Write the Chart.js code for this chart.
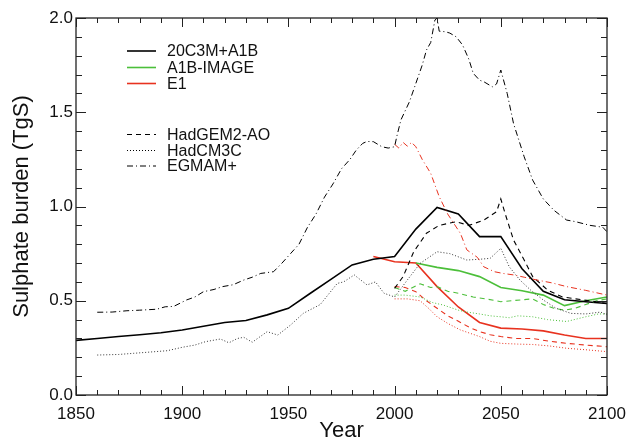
<!DOCTYPE html>
<html>
<head>
<meta charset="utf-8">
<script src="https://cdn.jsdelivr.net/npm/chart.js@4.4.1/dist/chart.umd.min.js"></script>
<style>
  html, body { margin: 0; padding: 0; background: #fff; }
</style>
</head>
<body>
<canvas id="chart" width="628" height="444"></canvas>
<script>
// Axis ticks
const xTicks = [1850, 1900, 1950, 2000, 2050, 2100];
const yTicks = [0.0, 0.5, 1.0, 1.5, 2.0];

// Ensemble means (solid)
const meanYears = [1850, 1860, 1870, 1880, 1890, 1900, 1910, 1920, 1930, 1940, 1950, 1960, 1970,
    1980, 1990, 2000, 2010, 2020, 2030, 2040, 2050, 2060, 2070, 2080, 2090, 2100];
const meanA1B = [0.29, 0.30, 0.31, 0.32, 0.33, 0.345, 0.365, 0.385, 0.395, 0.425, 0.46, 0.537, 0.613,
    0.69, 0.72, 0.735, 0.88, 0.995, 0.96, 0.84, 0.84, 0.67, 0.55, 0.505, 0.495, 0.485];
const imageYears = [2010, 2020, 2030, 2040, 2050, 2060, 2070, 2080, 2090, 2100];
const meanImage = [0.70, 0.677, 0.66, 0.628, 0.57, 0.553, 0.53, 0.474, 0.50, 0.52];
const e1Years = [1990, 2000, 2010, 2020, 2030, 2040, 2050, 2060, 2070, 2080, 2090, 2100];
const meanE1 = [0.735, 0.707, 0.70, 0.575, 0.467, 0.385, 0.355, 0.35, 0.34, 0.318, 0.30, 0.30];

// HadGEM2-AO (dashed)
const hgA1BYears = [2000, 2004, 2009, 2015, 2021, 2029, 2035, 2042, 2048, 2050, 2052, 2056, 2061,
    2065, 2072, 2079, 2089, 2100];
const hgA1B = [0.566, 0.628, 0.76, 0.858, 0.90, 0.919, 0.90, 0.928, 0.972, 1.04, 0.964, 0.822, 0.716,
    0.628, 0.557, 0.52, 0.504, 0.486];
const hgImageYears = [2000, 2005, 2012, 2017, 2020, 2025, 2030, 2037, 2043, 2050, 2055, 2060, 2065,
    2070, 2075, 2080, 2085, 2090, 2095, 2100];
const hgImage = [0.57, 0.55, 0.59, 0.57, 0.575, 0.55, 0.54, 0.52, 0.51, 0.495, 0.50, 0.505, 0.51,
    0.48, 0.46, 0.45, 0.46, 0.48, 0.50, 0.51];
const hgE1Years = [2000, 2005, 2010, 2015, 2020, 2025, 2029, 2035, 2040, 2045, 2050, 2057, 2065,
    2073, 2081, 2090, 2100];
const hgE1 = [0.575, 0.57, 0.548, 0.50, 0.46, 0.42, 0.398, 0.36, 0.336, 0.32, 0.31, 0.30, 0.30,
    0.285, 0.274, 0.265, 0.256];

// HadCM3C (dotted)
const hcA1BYears = [1860, 1870, 1877, 1885, 1893, 1900, 1906, 1911, 1918, 1922, 1926, 1929, 1933,
    1940, 1945, 1951, 1957, 1965, 1973, 1976, 1981, 1987, 1991, 1995, 2000, 2006, 2012, 2020, 2026,
    2034, 2040, 2045, 2050, 2054, 2059, 2064, 2070, 2076, 2083, 2090, 2097, 2100];
const hcA1B = [0.212, 0.215, 0.221, 0.228, 0.235, 0.253, 0.265, 0.283, 0.297, 0.277, 0.30, 0.306, 0.28,
    0.336, 0.318, 0.371, 0.433, 0.48, 0.592, 0.60, 0.637, 0.584, 0.60, 0.54, 0.52, 0.61, 0.698, 0.76, 0.75,
    0.716, 0.72, 0.725, 0.778, 0.68, 0.61, 0.557, 0.504, 0.46, 0.433, 0.43, 0.44, 0.425];
const hcImageYears = [2000, 2005, 2012, 2018, 2023, 2030, 2034, 2040, 2045, 2050, 2054, 2058, 2065,
    2072, 2081, 2090, 2096, 2100];
const hcImage = [0.53, 0.53, 0.52, 0.49, 0.477, 0.45, 0.44, 0.43, 0.42, 0.415, 0.41, 0.42, 0.415,
    0.40, 0.39, 0.415, 0.43, 0.43];
const hcE1Years = [2000, 2006, 2012, 2016, 2020, 2025, 2031, 2040, 2045, 2050, 2058, 2065, 2073,
    2081, 2090, 2100];
const hcE1 = [0.51, 0.51, 0.50, 0.46, 0.415, 0.38, 0.345, 0.31, 0.285, 0.274, 0.27, 0.268, 0.26,
    0.248, 0.24, 0.23];

// EGMAM+ (dash-dot)
const egA1BYears = [1860, 1867, 1874, 1880, 1888, 1892, 1896, 1902, 1906, 1910, 1915, 1919, 1924,
    1929, 1933, 1937, 1943, 1947, 1951, 1955, 1959, 1963, 1967, 1971, 1975, 1979, 1982, 1985, 1987,
    1990, 1994, 1997, 2000, 2001, 2003, 2007, 2010, 2013, 2015, 2017, 2019, 2020, 2021, 2024, 2026,
    2029, 2032, 2035, 2037, 2040, 2042, 2046, 2048, 2050, 2053, 2056, 2061, 2065, 2070, 2075, 2081,
    2085, 2092, 2098, 2100];
const egA1B = [0.439, 0.44, 0.447, 0.45, 0.455, 0.468, 0.47, 0.504, 0.52, 0.548, 0.56, 0.575, 0.585,
    0.61, 0.625, 0.645, 0.654, 0.70, 0.75, 0.80, 0.89, 0.96, 1.05, 1.12, 1.20, 1.25, 1.30, 1.335, 1.345,
    1.344, 1.317, 1.31, 1.317, 1.37, 1.46, 1.556, 1.653, 1.75, 1.83, 1.87, 1.99, 2.0, 1.93, 1.927, 1.92,
    1.90, 1.857, 1.78, 1.707, 1.67, 1.662, 1.635, 1.65, 1.724, 1.60, 1.44, 1.264, 1.14, 1.04, 0.98, 0.928,
    0.92, 0.90, 0.89, 0.866];
const egE1Years = [2000, 2002, 2004, 2006, 2008, 2010, 2013, 2017, 2021, 2025, 2031, 2034, 2039,
    2042, 2047, 2051, 2056, 2061, 2067, 2074, 2081, 2090, 2100];
const egE1 = [1.33, 1.31, 1.34, 1.32, 1.34, 1.317, 1.25, 1.176, 1.052, 0.96, 0.857, 0.77, 0.73,
    0.68, 0.654, 0.645, 0.637, 0.625, 0.61, 0.595, 0.575, 0.555, 0.53];

// Legend
const legendLabels = ["20C3M+A1B", "A1B-IMAGE", "E1", "HadGEM2-AO", "HadCM3C", "EGMAM+"];

const BLACK = "#000000";
const GREEN = "#4cbf3a";
const RED = "#e8321f";
const DASH = [5, 4];
const DOT = [1, 2];
const DASHDOT = [6, 3, 1, 3];

function pts(xs, ys) {
    return xs.map((x, i) => ({ x: x, y: ys[i] }));
}

function line(xs, ys, color, dash, width) {
    return {
        data: pts(xs, ys),
        borderColor: color,
        borderDash: dash,
        borderWidth: width,
        pointRadius: 0,
        tension: 0,
        fill: false
    };
}

const datasets = [
    line(egA1BYears, egA1B, BLACK, DASHDOT, 1),
    line(egE1Years, egE1, RED, DASHDOT, 1),
    line(hcA1BYears, hcA1B, "#333", DOT, 1),
    line(hcImageYears, hcImage, GREEN, DOT, 1),
    line(hcE1Years, hcE1, RED, DOT, 1),
    line(hgA1BYears, hgA1B, BLACK, DASH, 1.1),
    line(hgImageYears, hgImage, GREEN, DASH, 1.1),
    line(hgE1Years, hgE1, RED, DASH, 1.1),
    line(meanYears, meanA1B, BLACK, [], 1.6),
    line(imageYears, meanImage, GREEN, [], 1.6),
    line(e1Years, meanE1, RED, [], 1.6)
];

// Box frame and inward ticks on all four sides
const framePlugin = {
    id: "frame",
    afterDatasetsDraw(chart) {
        const { ctx, chartArea: a, scales } = chart;
        const xs = scales.x, ys = scales.y;
        ctx.save();
        ctx.strokeStyle = "#222";
        ctx.lineWidth = 1.3;
        ctx.strokeRect(a.left, a.top, a.right - a.left, a.bottom - a.top);
        ctx.beginPath();
        for (let yr = 1850; yr <= 2100; yr += 10) {
            const px = Math.round(xs.getPixelForValue(yr)) + 0.5;
            const len = yr % 50 === 0 ? 9 : 5;
            ctx.moveTo(px, a.bottom); ctx.lineTo(px, a.bottom - len);
            ctx.moveTo(px, a.top); ctx.lineTo(px, a.top + len);
        }
        for (let k = 0; k <= 20; k++) {
            const py = Math.round(ys.getPixelForValue(k / 10)) + 0.5;
            const len = k % 5 === 0 ? 10 : 6;
            ctx.moveTo(a.left, py); ctx.lineTo(a.left + len, py);
            ctx.moveTo(a.right, py); ctx.lineTo(a.right - len, py);
        }
        ctx.lineWidth = 1;
        ctx.stroke();
        ctx.restore();
    }
};

// Legend drawn inside the plot area
const legendPlugin = {
    id: "insideLegend",
    afterDraw(chart) {
        const { ctx, chartArea: a } = chart;
        const rows = [
            { color: BLACK, dash: [], width: 1.6, dy: 33 },
            { color: GREEN, dash: [], width: 1.6, dy: 49.5 },
            { color: RED, dash: [], width: 1.6, dy: 65.5 },
            { color: BLACK, dash: DASH, width: 1, dy: 116.5 },
            { color: BLACK, dash: DOT, width: 1, dy: 132.5 },
            { color: BLACK, dash: DASHDOT, width: 1, dy: 148 }
        ];
        ctx.save();
        ctx.font = "16px 'Liberation Sans', Arial, sans-serif";
        ctx.textBaseline = "middle";
        ctx.fillStyle = "#111";
        rows.forEach((r, i) => {
            const y = a.top + r.dy;
            ctx.beginPath();
            ctx.setLineDash(r.dash);
            ctx.strokeStyle = r.color;
            ctx.lineWidth = r.width;
            ctx.moveTo(a.left + 51, y);
            ctx.lineTo(a.left + 80, y);
            ctx.stroke();
            ctx.setLineDash([]);
            ctx.fillText(legendLabels[i], a.left + 91, y + 1);
        });
        ctx.restore();
    }
};

new Chart(document.getElementById("chart"), {
    type: "line",
    data: { datasets: datasets },
    options: {
        responsive: false,
        animation: false,
        layout: { padding: { top: 18, right: 21, left: 0, bottom: 0 } },
        plugins: {
            legend: { display: false },
            tooltip: { enabled: false }
        },
        scales: {
            x: {
                type: "linear",
                min: 1850,
                max: 2100,
                afterFit(scale) {
                    scale.height = 49;
                    scale.paddingLeft = 0;
                    scale.paddingRight = 0;
                },
                afterBuildTicks(scale) { scale.ticks = xTicks.map(v => ({ value: v })); },
                grid: { display: false, drawTicks: false },
                border: { display: false },
                ticks: {
                    padding: 9,
                    color: "#111",
                    maxRotation: 0,
                    autoSkip: false,
                    font: { family: "'Liberation Sans', Arial, sans-serif", size: 17 },
                    callback: v => String(v)
                },
                title: {
                    display: true,
                    text: "Year",
                    color: "#111",
                    padding: { top: 0, bottom: 0 },
                    font: { family: "'Liberation Sans', Arial, sans-serif", size: 22 }
                }
            },
            y: {
                min: 0,
                max: 2,
                afterFit(scale) {
                    scale.width = 76;
                    scale.paddingTop = 0;
                    scale.paddingBottom = 0;
                },
                afterBuildTicks(scale) { scale.ticks = yTicks.map(v => ({ value: v })); },
                grid: { display: false, drawTicks: false },
                border: { display: false },
                ticks: {
                    padding: 3,
                    color: "#111",
                    font: { family: "'Liberation Sans', Arial, sans-serif", size: 17 },
                    callback: v => Number(v).toFixed(1)
                },
                title: {
                    display: true,
                    text: "Sulphate burden (TgS)",
                    color: "#111",
                    padding: { top: 9, bottom: 0 },
                    font: { family: "'Liberation Sans', Arial, sans-serif", size: 22 }
                }
            }
        }
    },
    plugins: [framePlugin, legendPlugin]
});
</script>
</body>
</html>
